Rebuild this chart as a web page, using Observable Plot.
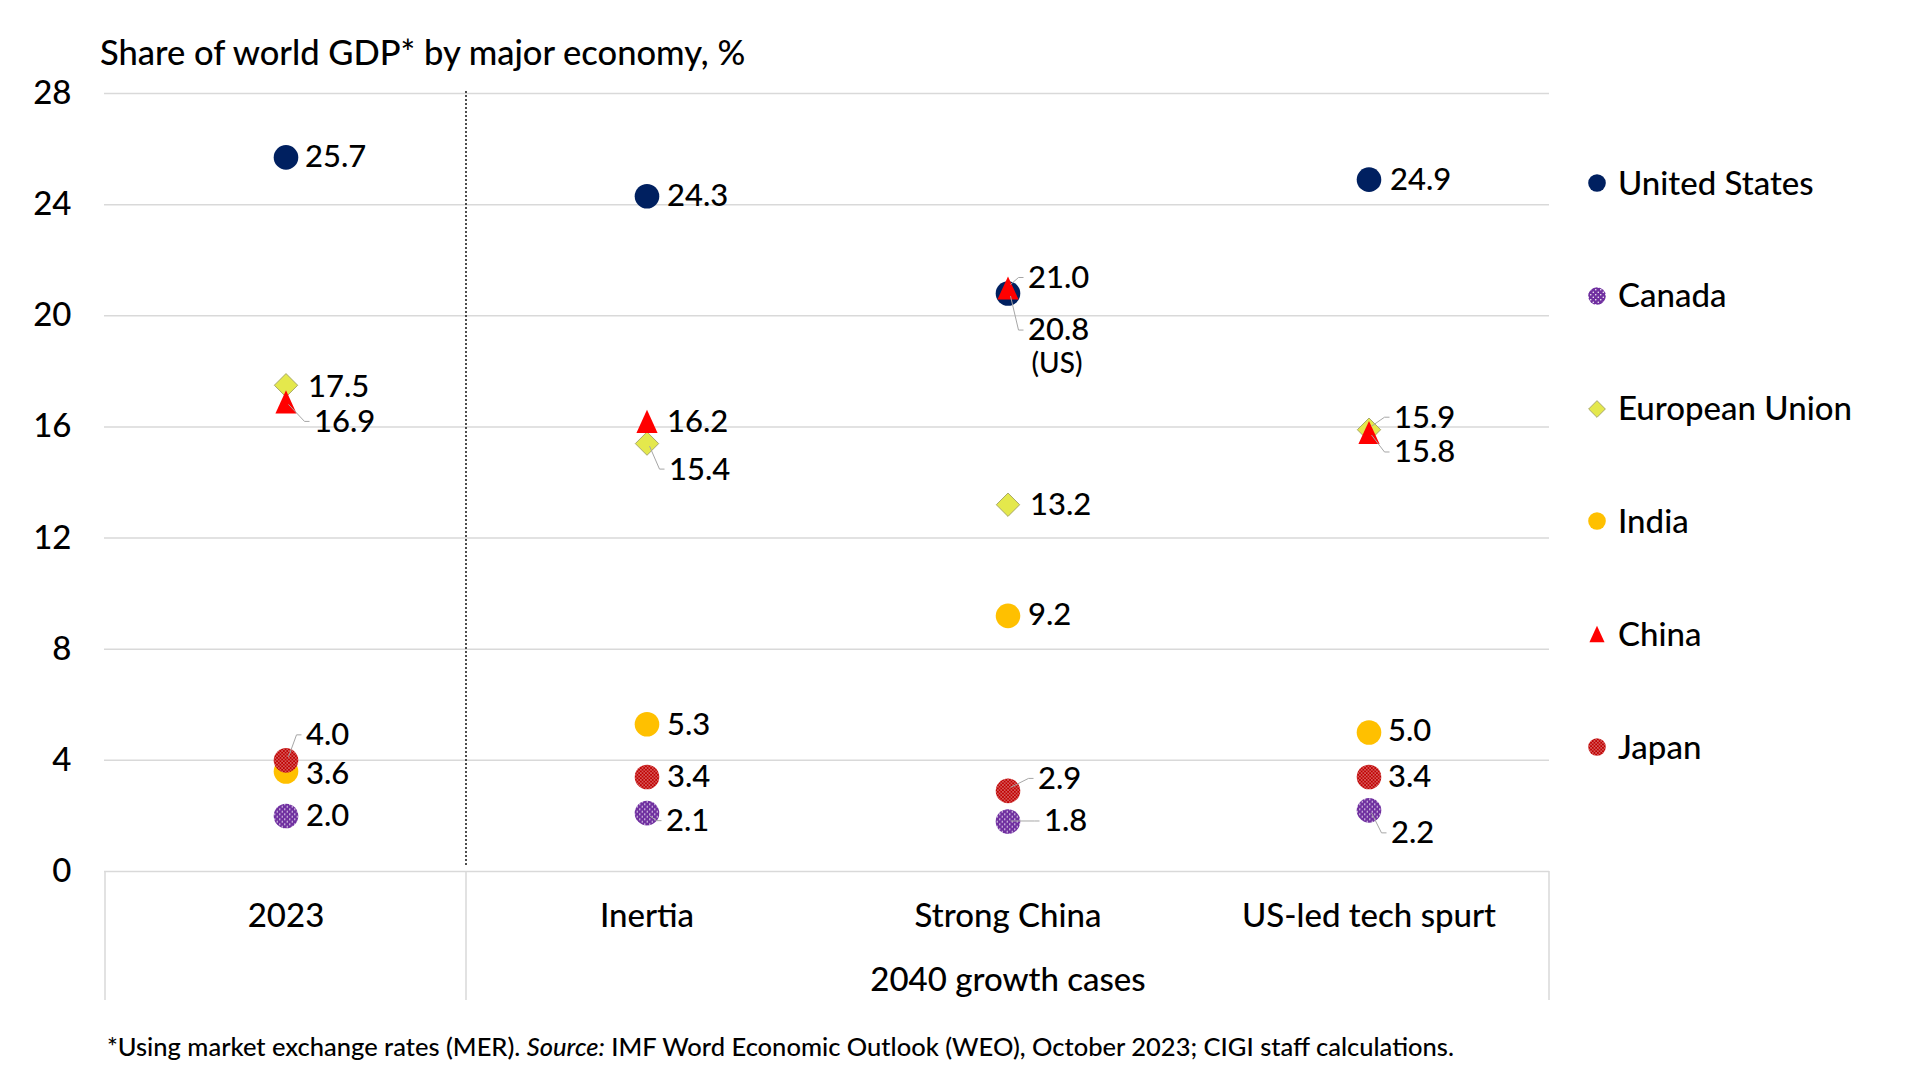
<!DOCTYPE html>
<html>
<head>
<meta charset="utf-8">
<script src="https://cdn.jsdelivr.net/npm/d3@7"></script>
<script src="https://cdn.jsdelivr.net/npm/@observablehq/plot@0.6"></script>
<style>
  html, body { margin: 0; padding: 0; background: #fff; }
  #chart { position: relative; width: 1920px; height: 1080px; overflow: hidden; background: #fff;
           font-family: Lato, "Noto Sans", sans-serif; color: #000; font-weight: 500; }
  #chart .abs { position: absolute; white-space: nowrap; line-height: 1; }
  .title { left: 100px; font-size: 34.5px; }
  .foot { left: 107px; font-size: 25.5px; }
  .legend-text { left: 1618px; font-size: 33px; }
</style>
</head>
<body>
<div id="chart"></div>
<script>
// ---------------- data ----------------
const scenarios = ["2023", "Inertia", "Strong China", "US-led tech spurt"];
const economies = ["United States", "Canada", "European Union", "India", "China", "Japan"];
const unitedStates = [25.7, 24.3, 20.8, 24.9];
const canada = [2.0, 2.1, 1.8, 2.2];
const europeanUnion = [17.5, 15.4, 13.2, 15.9];
const india = [3.6, 5.3, 9.2, 5.0];
const china = [16.9, 16.2, 21.0, 15.8];
const japan = [4.0, 3.4, 2.9, 3.4];
const yTicks = [0, 4, 8, 12, 16, 20, 24, 28];
const groupLabel = "2040 growth cases";
const strongChinaUSNote = "(US)";
const titleText = "Share of world GDP* by major economy, %";
const footHTML = "*Using market exchange rates (MER). <i>Source:</i> IMF Word Economic Outlook (WEO), October 2023; CIGI staff calculations.";

const seriesValues = {
  "United States": unitedStates, "Canada": canada, "European Union": europeanUnion,
  "India": india, "China": china, "Japan": japan
};

// ---------------- styles / layout ----------------
const triangleSymbol = {
  draw(ctx, size) {
    const r = Math.sqrt(size / Math.PI);
    const hw = r * 0.86, hh = r * 0.94;
    ctx.moveTo(0, -hh); ctx.lineTo(hw, hh); ctx.lineTo(-hw, hh); ctx.closePath();
  }
};
const diamondSymbol = {
  draw(ctx, size) {
    const r = Math.sqrt(size / Math.PI);
    const s = r * 0.95;
    ctx.moveTo(0, -s); ctx.lineTo(s, 0); ctx.lineTo(0, s); ctx.lineTo(-s, 0); ctx.closePath();
  }
};
const economyStyles = {
  "United States": { fill: "#002060", symbol: d3.symbolCircle },
  "Canada": { fill: "url(#dotsCanada)", symbol: d3.symbolCircle },
  "European Union": { fill: "#e4e84c", stroke: "#a8a86a", symbol: diamondSymbol },
  "India": { fill: "#ffc000", symbol: d3.symbolCircle },
  "China": { fill: "#ff0000", symbol: triangleSymbol },
  "Japan": { fill: "url(#dotsJapan)", symbol: d3.symbolCircle }
};
// label placement in pixels relative to the point: [dx, dy, leader line]
const labelPlacement = {
  "United States": [[19, 0, 0], [20, 0, 0], [20, 37, 1], [21, 0, 0]],
  "Canada": [[20, 0, 0], [19, 8, 1], [36, 0, 1], [22, 23, 1]],
  "European Union": [[22, 2, 0], [22, 26, 1], [22, 0, 0], [25, -12, 1]],
  "India": [[20, 3, 0], [20, 1, 0], [20, -1, 0], [19, -1, 0]],
  "China": [[28, 20, 1], [20, 1, 0], [20, -10, 1], [25, 20, 1]],
  "Japan": [[20, -25, 1], [20, 0, 0], [30, -12, 1], [19, 0, 0]]
};

const rows = economies.flatMap(e => scenarios.map((s, i) => ({
  economy: e, scenario: s, value: seriesValues[e][i],
  dx: labelPlacement[e][i][0], dy: labelPlacement[e][i][1], leader: labelPlacement[e][i][2]
})));

const FONT = "Lato, 'Noto Sans', sans-serif";
const dotR = 12.3;

// pattern defs
const defsMark = () => {
  const defs = d3.create("svg:defs");
  const pc = defs.append("pattern").attr("id", "dotsCanada").attr("patternUnits", "userSpaceOnUse")
    .attr("width", 5).attr("height", 5);
  pc.append("rect").attr("width", 5).attr("height", 5).attr("fill", "#7030a0");
  pc.append("circle").attr("cx", 1.25).attr("cy", 1.25).attr("r", 0.75).attr("fill", "#fff");
  pc.append("circle").attr("cx", 3.75).attr("cy", 3.75).attr("r", 0.75).attr("fill", "#fff");
  const pj = defs.append("pattern").attr("id", "dotsJapan").attr("patternUnits", "userSpaceOnUse")
    .attr("width", 3.4).attr("height", 3.4);
  pj.append("rect").attr("width", 3.4).attr("height", 3.4).attr("fill", "#c00000");
  pj.append("circle").attr("cx", 0.85).attr("cy", 0.85).attr("r", 0.55).attr("fill", "#fff");
  pj.append("circle").attr("cx", 2.55).attr("cy", 2.55).attr("r", 0.55).attr("fill", "#fff");
  return defs.node();
};

function bandHalf(scales, dims) {
  if (scales.x && scales.x.bandwidth) return scales.x.bandwidth() / 2;
  return (dims.width - dims.marginLeft - dims.marginRight) / scenarios.length / 2;
}

// x-axis frame lines + dotted separator, via scales
const frameMark = (index, scales, values, dims) => {
  const g = d3.create("svg:g");
  const half = bandHalf(scales, dims);
  const y0 = scales.y(0), yTop = scales.y(yTicks[yTicks.length - 1]);
  const xs = [scales.x(scenarios[0]), scales.x(scenarios[1]), scales.x(scenarios[scenarios.length - 1]) + 2 * half];
  for (const x of xs) {
    g.append("line").attr("x1", x).attr("x2", x).attr("y1", y0).attr("y2", y0 + 129)
      .attr("stroke", "#d9d9d9").attr("stroke-width", 1.5);
  }
  g.append("line").attr("x1", xs[1]).attr("x2", xs[1]).attr("y1", yTop - 2).attr("y2", y0 - 4)
    .attr("stroke", "#222").attr("stroke-width", 1.6).attr("stroke-dasharray", "2,2");
  return g.node();
};

// leader lines
const leaderMark = (index, scales, values, dims) => {
  const g = d3.create("svg:g").attr("fill", "none").attr("stroke", "#a6a6a6").attr("stroke-width", 1);
  const half = bandHalf(scales, dims);
  for (const r of rows) {
    if (!r.leader) continue;
    const px = scales.x(r.scenario) + half, py = scales.y(r.value);
    const lx = px + r.dx, ly = py + r.dy;
    const sy = py + Math.sign(r.dy) * 3;
    g.append("polyline").attr("points", [[px + 3, sy], [lx - 9, ly], [lx - 4, ly]].join(" "));
  }
  return g.node();
};

const plot = Plot.plot({
  width: 1920, height: 1080,
  marginLeft: 104, marginRight: 371, marginTop: 93, marginBottom: 209,
  style: { fontFamily: FONT, fontWeight: 500, color: "#000", background: "transparent", position: "absolute", left: "0px", top: "0px", overflow: "visible" },
  x: { type: "band", domain: scenarios, paddingInner: 0, paddingOuter: 0 },
  y: { domain: [0, 28] },
  marks: [
    defsMark,
    Plot.gridY(yTicks, { stroke: "#d9d9d9", strokeOpacity: 1, strokeWidth: 1.5 }),
    Plot.axisY(yTicks, { tickSize: 0, tickPadding: 33, fontSize: 33, fill: "#000", label: null }),
    Plot.axisX({ tickSize: 0, tickPadding: 32, fontSize: 33, fill: "#000", label: null }),
    Plot.text([{ scenario: scenarios[2], label: groupLabel }], {
      x: "scenario", text: "label", frameAnchor: "bottom", dy: 119, fontSize: 33, fill: "#000"
    }),
    frameMark,
    ...economies.map(e => Plot.dot(rows.filter(d => d.economy === e), {
      x: "scenario", y: "value", r: dotR,
      symbol: economyStyles[e].symbol, fill: economyStyles[e].fill,
      stroke: economyStyles[e].stroke || "none", strokeWidth: 1
    })),
    leaderMark,
    ...rows.map(r => Plot.text([r], {
      x: "scenario", y: "value", text: d => d.value.toFixed(1),
      dx: r.dx, dy: r.dy, textAnchor: "start", fontSize: 31, fill: "#000"
    })),
    Plot.text(rows.filter(d => d.economy === "United States" && d.scenario === "Strong China"), {
      x: "scenario", y: "value", text: () => strongChinaUSNote,
      dx: 49, dy: 70, textAnchor: "middle", fontSize: 28, fill: "#000"
    })
  ]
});

const chart = document.getElementById("chart");
chart.appendChild(plot);

// title and footnote
const title = document.createElement("div");
title.className = "abs title";
title.textContent = titleText;
title.style.top = (53 - 0.527 * 34.5) + "px";
chart.appendChild(title);

const foot = document.createElement("div");
foot.className = "abs foot";
foot.innerHTML = footHTML;
foot.style.top = (1047 - 0.527 * 25.5) + "px";
chart.appendChild(foot);

// legend
const legendR = 8.8;
economies.forEach((e, i) => {
  const cy = 183 + i * 112.8;
  const st = economyStyles[e];
  const path = d3.symbol(st.symbol, Math.PI * legendR * legendR)();
  const sym = document.createElementNS("http://www.w3.org/2000/svg", "svg");
  sym.setAttribute("width", 30); sym.setAttribute("height", 30);
  sym.setAttribute("viewBox", "-15 -15 30 30");
  sym.style.position = "absolute";
  sym.style.left = (1597 - 15) + "px";
  sym.style.top = (cy - 15) + "px";
  sym.innerHTML = `<path d="${path}" fill="${st.fill}" stroke="${st.stroke || 'none'}" stroke-width="1"/>`;
  chart.appendChild(sym);
  const t = document.createElement("div");
  t.className = "abs legend-text";
  t.textContent = e;
  t.style.top = (cy - 0.527 * 33) + "px";
  chart.appendChild(t);
});
</script>
</body>
</html>
